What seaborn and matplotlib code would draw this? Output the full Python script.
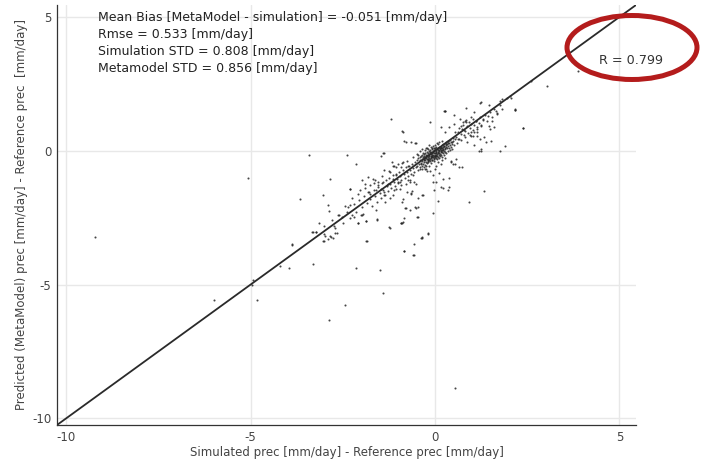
import matplotlib
matplotlib.use("Agg")
import matplotlib.pyplot as plt
from matplotlib.patches import Ellipse
import numpy as np
import pandas as pd
import seaborn as sns

# Simulated anomaly (x) vs metamodel prediction (y), mm/day
core_pts = [
    (-0.55,-0.42),(-0.52,-0.61),(-0.50,-0.35),(-0.48,-0.55),(-0.46,-0.70),(-0.45,-0.28),(-0.43,-0.48),
    (-0.42,-0.62),(-0.40,-0.33),(-0.39,-0.51),(-0.38,-0.20),(-0.37,-0.44),(-0.36,-0.58),(-0.35,-0.30),
    (-0.34,-0.39),(-0.33,-0.49),(-0.32,-0.25),(-0.31,-0.36),(-0.30,-0.43),(-0.30,-0.18),(-0.29,-0.31),
    (-0.28,-0.52),(-0.27,-0.22),(-0.26,-0.35),(-0.25,-0.41),(-0.25,-0.14),(-0.24,-0.28),(-0.23,-0.46),
    (-0.22,-0.19),(-0.21,-0.32),(-0.20,-0.25),(-0.20,-0.38),(-0.19,-0.10),(-0.18,-0.29),(-0.17,-0.21),
    (-0.16,-0.35),(-0.15,-0.15),(-0.15,-0.26),(-0.14,-0.06),(-0.13,-0.31),(-0.12,-0.18),(-0.12,-0.24),
    (-0.11,-0.12),(-0.10,-0.28),(-0.10,-0.03),(-0.09,-0.20),(-0.08,-0.14),(-0.08,-0.33),(-0.07,-0.08),
    (-0.06,-0.22),(-0.05,-0.01),(-0.05,-0.16),(-0.04,-0.27),(-0.03,-0.10),(-0.02,-0.19),(-0.02,0.04),
    (-0.01,-0.07),(0.00,-0.14),(0.00,-0.25),(0.01,0.02),(0.02,-0.09),(0.03,-0.18),(0.03,0.08),
    (0.04,-0.03),(0.05,-0.12),(0.06,0.05),(0.06,-0.21),(0.07,-0.05),(0.08,0.10),(0.09,-0.08),
    (0.10,0.02),(0.10,-0.16),(0.11,0.13),(0.12,-0.02),(0.13,0.07),(0.14,-0.11),(0.15,0.16),
    (0.15,0.01),(0.16,-0.06),(0.17,0.10),(0.18,0.21),(0.19,0.04),(0.20,-0.04),(0.21,0.14),
    (0.22,0.08),(0.23,0.25),(0.24,0.00),(0.25,0.17),(0.26,0.11),(0.27,0.30),(0.28,0.05),
    (0.29,0.20),(0.30,0.14),(0.31,0.34),(0.32,0.09),(0.33,0.24),(0.34,0.18),(0.35,0.38),
    (0.37,0.12),(0.38,0.28),(0.40,0.22),(0.42,0.41),(0.43,0.16),(0.45,0.32),(0.47,0.26),
    (0.48,0.47),(0.50,0.36),(0.52,0.20),(0.55,0.44),
    (-0.60,-0.25),(-0.50,-0.12),(-0.40,-0.02),(-0.35,0.05),(-0.28,0.02),(-0.22,0.10),(-0.18,0.06),
    (-0.12,0.15),(-0.05,0.18),(0.00,0.22),(0.05,0.28),(0.10,0.32),(-0.45,-0.15),(-0.32,-0.08),
    (-0.25,0.12),(-0.15,0.22),(-0.08,0.12),(0.02,0.14),(0.08,0.24),(0.18,0.38),
    (-0.10,-0.45),(-0.02,-0.38),(0.05,-0.32),(0.12,-0.28),(0.18,-0.22),(0.25,-0.15),(0.30,-0.08),
    (0.35,-0.02),(0.40,0.02),(0.08,-0.42),(-0.15,-0.55),(0.20,-0.35),(0.28,-0.28),(0.45,0.05),
    (0.15,-0.48),
    (-0.26,-0.09),(-0.21,-0.05),(-0.17,-0.01),(-0.13,0.03),(-0.09,0.06),(-0.04,0.09),(0.01,0.12),
    (-0.31,-0.12),(-0.36,-0.16),(-0.41,-0.22),(-0.19,-0.42),(-0.14,-0.40),(-0.07,-0.36),(-0.03,-0.31),
    (0.02,-0.27),(0.07,-0.25),(0.13,-0.19),(0.17,-0.14),(0.22,-0.10),(0.27,-0.03),(-0.24,-0.55),
    (-0.29,-0.62),(-0.34,-0.68),(-0.06,-0.05),(-0.11,-0.09),(-0.16,-0.12),(0.04,0.00),(0.09,0.04),
    (0.14,0.09),(0.19,0.12),(0.24,0.19),(0.29,0.24),(0.34,0.29),(-0.23,-0.16),(-0.27,-0.27),
    (-0.19,-0.33),(-0.09,-0.25),(-0.01,-0.20),(0.04,-0.15),(0.11,-0.10),(0.16,0.03),(0.21,0.02),
]

band_pts = [
    (-2.05,-1.85),(-1.98,-2.10),(-1.92,-1.70),(-1.85,-1.95),(-1.80,-1.55),(-1.75,-1.82),(-1.70,-2.05),
    (-1.66,-1.48),(-1.62,-1.70),(-1.58,-1.90),(-1.55,-1.35),(-1.50,-1.58),(-1.47,-1.78),(-1.43,-1.22),
    (-1.40,-1.45),(-1.36,-1.65),(-1.33,-1.10),(-1.30,-1.33),(-1.27,-1.52),(-1.24,-1.02),(-1.21,-1.25),
    (-1.18,-1.40),(-1.15,-0.92),(-1.12,-1.15),(-1.09,-1.30),(-1.06,-0.85),(-1.03,-1.05),(-1.00,-1.20),
    (-0.97,-0.78),(-0.94,-0.96),(-0.91,-1.10),(-0.88,-0.70),(-0.85,-0.88),(-0.82,-1.02),(-0.79,-0.62),
    (-0.76,-0.80),(-0.73,-0.94),(-0.70,-0.55),(-0.67,-0.72),(-0.64,-0.86),(-0.62,-0.48),(-0.59,-0.66),
    (-0.57,-0.78),(-1.90,-1.40),(-1.65,-1.20),(-1.45,-0.95),(-1.25,-0.75),(-1.05,-0.60),(-0.90,-0.45),
    (-0.75,-0.40),(-1.60,-2.20),(-1.35,-1.90),(-1.15,-1.65),(-0.95,-1.42),(-0.80,-1.25),(-0.68,-1.10),
    (-2.40,-2.30),(-2.30,-2.50),(-2.20,-2.00),(-2.15,-2.30),(-2.60,-2.40),(-2.50,-2.70),(-2.70,-2.90),
    (-2.80,-2.60),(-3.00,-2.80),(-2.25,-1.75),(-2.45,-2.05),(-2.10,-1.60),
    (0.58,0.50),(0.62,0.70),(0.66,0.45),(0.70,0.62),(0.74,0.80),(0.78,0.58),(0.82,0.74),
    (0.86,0.92),(0.90,0.66),(0.94,0.85),(0.98,1.02),(1.02,0.78),(1.06,0.96),(1.10,1.12),
    (1.14,0.90),(1.18,1.05),(1.22,1.25),(1.26,0.98),(1.30,1.18),(1.35,1.35),(1.40,1.10),
    (1.45,1.30),(1.50,1.45),(1.55,1.25),(1.60,1.55),(1.68,1.42),(1.75,1.70),(1.82,1.55),
    (0.60,0.30),(0.70,0.40),(0.80,0.50),(0.65,0.85),(0.75,0.95),(0.85,1.15),(0.55,0.72),
    (0.95,0.60),(1.05,0.70),
]

spread_pts = [
    (-1.81,-0.98),(-1.68,-1.04),(-1.54,-1.16),(-1.46,-1.41),(-1.77,-1.29),(-1.59,-1.48),(-1.37,-1.66),
    (-1.23,-1.78),(-1.05,-1.41),(-0.96,-1.16),(-0.74,-1.10),(-0.60,-0.92),(-1.23,-0.79),(-1.37,-0.73),
    (-1.14,-0.55),(-1.01,-0.48),(-0.87,-0.42),(-0.74,-0.55),(-0.42,-0.67),(-0.24,-0.67),(0.03,-1.16),
    (0.16,-1.35),(0.34,-1.47),(-0.02,-1.47),(-1.99,-1.10),(-1.91,-1.23),(-1.64,-1.10),(-1.54,-1.29),
    (-1.41,-1.16),(-1.27,-1.23),(-1.14,-1.04),(-1.05,-0.92),(-1.37,-1.54),(-1.10,-1.47),(-1.01,-1.16),
    (-0.92,-1.29),(-2.31,-1.41),(-2.04,-1.47),(-1.81,-1.54),(-1.77,-1.60),
    (-0.87,0.72),(-0.80,0.32),(-0.65,0.32),(-0.51,0.29),(-1.38,-0.07),(-1.47,-0.21),(-1.17,-0.42),
    (-1.10,-0.55),(-0.92,-0.61),(-0.89,0.73),(-0.83,0.36),(-0.54,0.30),
    (0.16,0.88),(0.27,0.69),(0.39,0.88),(0.52,1.00),(0.68,1.19),(0.84,1.07),(0.97,1.25),
    (1.11,1.13),(1.24,0.94),(1.15,0.70),(0.97,0.57),(0.88,0.32),(1.06,0.20),(1.24,0.07),
    (1.37,0.32),(0.25,1.50),(0.03,-0.55),(-0.06,-0.92),(0.21,-1.04),(0.43,-0.42),(0.57,-0.30),
    (0.66,-0.61),(0.39,-1.35),
    (0.55,-0.51),(0.43,-0.40),(0.48,-0.48),(0.72,-0.62),(0.39,-1.02),(0.21,-1.38),(-0.05,-1.16),
    (0.11,-0.84),(0.01,-0.69),(-0.13,-0.76),(-0.22,-0.76),(-0.27,-0.69),(-0.57,-1.16),(-0.51,-1.23),
    (-0.69,-1.16),(-0.34,-1.66),(-0.65,-1.62),(-0.77,-1.54),(-0.62,-1.51),(-0.87,-1.81),(-0.33,-1.66),
    (-0.90,-1.93),(-0.65,-1.56),(-0.47,-1.78),
    (1.19,-0.01),(1.26,0.01),(1.75,-0.01),(1.89,0.17),(1.52,0.36),
    (2.02,2.04),(2.06,1.98),(1.95,1.97),(1.81,1.92),(1.75,1.86),(1.24,1.81),(1.47,1.73),
    (1.65,1.50),(1.69,1.39),(1.06,1.44),(0.84,1.61),(0.27,1.50),(0.52,1.35),(1.04,1.19),
    (1.31,1.15),(1.54,1.12),(1.46,0.92),(1.60,0.89),(1.49,0.81),(1.15,0.82),(0.82,1.10),
    (0.93,1.08),(0.75,1.07),(0.70,0.94),(0.79,0.78),(0.97,0.72),(1.02,0.57),(1.15,0.55),
    (1.22,0.43),(1.33,0.52),(0.34,0.38),(0.43,0.32),(0.61,0.45),(1.23,1.80),(2.16,1.55),
    (2.17,1.54),(2.39,0.86),(2.60,2.61),(-1.20,1.19),(-0.14,1.07),(0.26,1.48),
]

far_pts = [
    (-9.21,-3.21),(-5.08,-1.00),(-3.65,-1.81),(-3.88,-3.51),(-4.21,-4.29),(-3.97,-4.39),(-4.94,-4.84),
    (-4.96,-5.03),(-6.00,-5.59),(-4.82,-5.59),(-3.15,-2.69),(-3.34,-3.02),(-3.24,-3.05),(-3.01,-3.10),
    (-2.85,-3.17),(-2.83,-3.21),(-2.91,-3.30),(-3.01,-3.39),(-2.67,-3.09),(-2.73,-2.80),(-2.10,-2.69),
    (-1.87,-2.61),(-1.58,-2.55),(-1.25,-2.86),(-0.91,-2.69),(-1.84,-3.39),(-0.84,-3.74),(-0.59,-3.89),
    (-3.32,-4.24),(-2.14,-4.38),(-1.49,-4.45),(-1.41,-5.33),(-2.44,-5.75),(-2.88,-6.31),
    (0.54,-8.85),(1.34,-1.50),(0.92,-1.91),(0.09,-1.87),(-0.05,-2.34),(-0.79,-2.13),(-0.54,-2.11),
    (-0.47,-2.11),(-0.47,-2.47),(-0.83,-2.50),(-0.90,-2.70),(-0.20,-3.11),(-0.36,-3.27),(-0.83,-3.74),
    (-0.58,-3.89),(3.05,2.44),(3.87,2.99),(2.17,1.54),(2.39,0.87),
    (-3.41,-0.17),(-2.38,-0.15),(-2.14,-0.51),(-1.41,-0.10),(-2.85,-1.04),(-2.30,-1.41),(-3.04,-1.66),
    (-2.89,-2.01),(-2.62,-2.40),(-2.53,-2.47),(-2.31,-2.01),(-2.35,-2.09),(-2.24,-2.40),(-2.19,-2.47),
    (-2.00,-2.40),(-1.95,-2.38),(-1.56,-2.59),(-1.23,-2.88),(-1.86,-3.39),(-0.92,-2.71),(-2.87,-2.26),
    (-1.98,-2.40),(-1.86,-2.63),(-2.08,-2.69),(-0.87,-2.68),(-0.81,-2.13),(-0.67,-2.22),(-0.51,-2.13),
    (-0.49,-2.47),(-0.20,-3.09),(-0.36,-3.24),(-0.38,-3.27),(-0.56,-3.49),(-3.30,-3.02),(-3.23,-3.05),
    (-2.98,-3.17),(-2.76,-3.27),(-2.71,-3.09),(-3.03,-3.39),(-3.88,-3.49),
]

stats_lines = [
    "Mean Bias [MetaModel - simulation] = -0.051 [mm/day]",
    "Rmse = 0.533 [mm/day]",
    "Simulation STD = 0.808 [mm/day]",
    "Metamodel STD = 0.856 [mm/day]",
]
r_label = "R = 0.799"
tick_values = [-10, -5, 0, 5]
axis_limits = (-10.25, 5.45)

pts = core_pts + band_pts + spread_pts + far_pts
df = pd.DataFrame(pts, columns=["sim", "meta"])

sns.set_style("white")
plt.rcParams["axes.unicode_minus"] = False
plt.rcParams["font.family"] = ["DejaVu Sans"]

W, H = 702, 459
fig = plt.figure(figsize=(W / 100, H / 100), dpi=100)
ax = fig.add_axes([57 / W, 1 - 425 / H, 579 / W, 420 / H])

ax.set_xlim(*axis_limits)
ax.set_ylim(*axis_limits)
ax.set_xticks(tick_values)
ax.set_yticks(tick_values)
ax.grid(True, color="#e8e8e8", linewidth=1.0)
ax.set_axisbelow(True)

sns.scatterplot(data=df, x="sim", y="meta", ax=ax, s=2.2, color="#262626",
                linewidth=0, marker="o", alpha=0.85, zorder=3)
ax.axline((0, 0), slope=1, color="#2a2a2a", linewidth=1.3, zorder=4)

for side in ("top", "right"):
    ax.spines[side].set_visible(False)
for side in ("left", "bottom"):
    ax.spines[side].set_color("#333333")
    ax.spines[side].set_linewidth(0.9)
ax.tick_params(direction="in", length=4, width=0.8, colors="#333333",
               labelcolor="#444444", labelsize=8.5, pad=4)

ax.set_xlabel("Simulated prec [mm/day] - Reference prec [mm/day]",
              fontsize=8.5, color="#444444", labelpad=2)
ax.set_ylabel("Predicted (MetaModel) prec [mm/day] - Reference prec  [mm/day]",
              fontsize=8.5, color="#444444", labelpad=3)

for i, line in enumerate(stats_lines):
    fig.text(98 / W, 1 - (18 + 16.7 * i) / H, line, fontsize=9.0,
             color="#222222", va="center", ha="left")

fig.text(631 / W, 1 - 61 / H, r_label, fontsize=9.2, color="#333333",
         va="center", ha="center")
fig.patches.append(Ellipse((632 / W, 1 - 47.5 / H), 130 / W, 64 / H,
                           transform=fig.transFigure, fill=False,
                           edgecolor="#b41c1c", linewidth=3.6))

fig.savefig("out.png", dpi=100)
